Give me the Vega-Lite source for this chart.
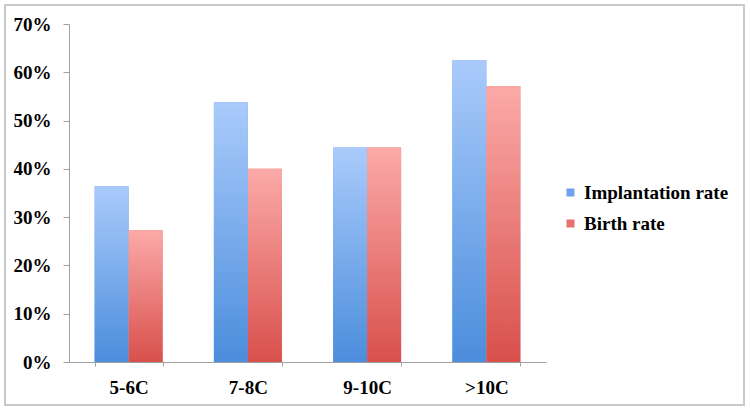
{
  "$schema": "https://vega.github.io/schema/vega-lite/v6.json",
  "width": 739,
  "height": 400,
  "autosize": {"type": "none"},
  "padding": {"left": 5, "top": 5, "right": 6, "bottom": 6},
  "background": "white",
  "config": {
    "view": {"stroke": "#c8c8c8", "strokeWidth": 2},
    "font": "Liberation Serif"
  },
  "data": {
    "values": [
      {"group": "5-6C", "series": "Implantation rate", "rate": 0.364},
      {"group": "5-6C", "series": "Birth rate", "rate": 0.273},
      {"group": "7-8C", "series": "Implantation rate", "rate": 0.538},
      {"group": "7-8C", "series": "Birth rate", "rate": 0.4},
      {"group": "9-10C", "series": "Implantation rate", "rate": 0.444},
      {"group": "9-10C", "series": "Birth rate", "rate": 0.444},
      {"group": ">10C", "series": "Implantation rate", "rate": 0.625},
      {"group": ">10C", "series": "Birth rate", "rate": 0.571}
    ]
  },
  "encoding": {
    "x": {
      "field": "group",
      "type": "nominal",
      "sort": ["5-6C", "7-8C", "9-10C", ">10C"],
      "scale": {"range": [64, 541], "paddingInner": 0.43, "paddingOuter": 0.215},
      "axis": {
        "title": null,
        "offset": -43,
        "tickBand": "extent",
        "tickSize": 4,
        "tickColor": "#a0a0a0",
        "domainColor": "#a0a0a0",
        "labelAngle": 0,
        "labelPadding": 12,
        "labelFont": "Liberation Serif",
        "labelFontSize": 19,
        "labelFontWeight": "bold",
        "labelColor": "black",
        "grid": false
      }
    },
    "xOffset": {
      "field": "series",
      "type": "nominal",
      "sort": ["Implantation rate", "Birth rate"],
      "scale": {"domain": ["Implantation rate", "Birth rate"]}
    },
    "y": {
      "field": "rate",
      "type": "quantitative",
      "scale": {"domain": [0, 0.7], "range": [357, 19], "nice": false, "zero": true},
      "axis": {
        "title": null,
        "offset": -64,
        "values": [0, 0.1, 0.2, 0.3, 0.4, 0.5, 0.6, 0.7],
        "format": ".0%",
        "grid": false,
        "tickSize": 6,
        "tickColor": "#a0a0a0",
        "domainColor": "#a0a0a0",
        "labelPadding": 12,
        "labelFont": "Liberation Serif",
        "labelFontSize": 19,
        "labelFontWeight": "bold",
        "labelColor": "black"
      }
    }
  },
  "layer": [
    {
      "mark": {"type": "bar"},
      "encoding": {
        "color": {
          "field": "series",
          "type": "nominal",
          "sort": ["Implantation rate", "Birth rate"],
          "scale": {"domain": ["Implantation rate", "Birth rate"], "range": ["#6fa2ea", "#e6716d"]},
          "legend": {
            "title": null,
            "orient": "none",
            "legendX": 556,
            "legendY": 178,
            "padding": 0,
            "symbolType": "square",
            "symbolSize": 64,
            "symbolStrokeWidth": 0,
            "labelOffset": 4,
            "rowPadding": 11,
            "labelFont": "Liberation Serif",
            "labelFontSize": 19,
            "labelFontWeight": "bold",
            "labelColor": "black"
          }
        }
      }
    },
    {
      "transform": [{"filter": "datum.series === 'Implantation rate'"}],
      "mark": {
        "type": "bar",
        "fill": {
          "gradient": "linear",
          "x1": 0, "y1": 0, "x2": 0, "y2": 1,
          "stops": [
            {"offset": 0, "color": "#aacbfb"},
            {"offset": 1, "color": "#4b8ddc"}
          ]
        }
      }
    },
    {
      "transform": [{"filter": "datum.series === 'Birth rate'"}],
      "mark": {
        "type": "bar",
        "fill": {
          "gradient": "linear",
          "x1": 0, "y1": 0, "x2": 0, "y2": 1,
          "stops": [
            {"offset": 0, "color": "#fbaaa8"},
            {"offset": 1, "color": "#d8504c"}
          ]
        }
      }
    }
  ]
}
